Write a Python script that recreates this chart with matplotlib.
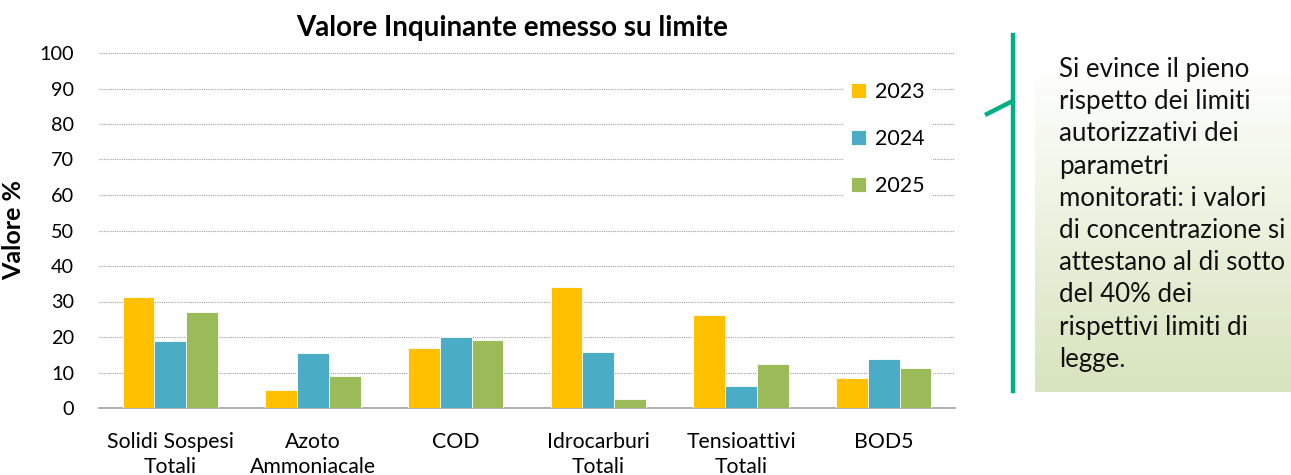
import numpy as np
import matplotlib.pyplot as plt
from matplotlib.colors import LinearSegmentedColormap

categories = ['Solidi Sospesi\nTotali', 'Azoto\nAmmoniacale', 'COD',
              'Idrocarburi\nTotali', 'Tensioattivi\nTotali', 'BOD5']
years = ['2023', '2024', '2025']
v2023 = [31.4, 5.1, 16.8, 34.2, 26.2, 8.5]
v2024 = [19.0, 15.5, 19.9, 15.8, 6.2, 13.9]
v2025 = [27.0, 8.9, 19.2, 2.5, 12.5, 11.2]
colors = ['#FFC000', '#4BACC6', '#9BBB59']

note = ("Si evince il pieno\nrispetto dei limiti\nautorizzativi dei\nparametri\n"
        "monitorati: i valori\ndi concentrazione si\nattestano al di sotto\n"
        "del 40% dei\nrispettivi limiti di\nlegge.")

plt.rcParams['font.family'] = ['Lato', 'DejaVu Sans']

fig = plt.figure(figsize=(12.91, 4.75), dpi=100)
ax = fig.add_axes([99 / 1291, 1 - 408 / 475, 856 / 1291, 355 / 475])

x = np.arange(len(categories))
w = 0.222
for i, (vals, c, lab) in enumerate(zip([v2023, v2024, v2025], colors, years)):
    ax.bar(x + (i - 1) * w, vals, w, color=c, label=lab, edgecolor='white', linewidth=0.6, zorder=3)

ax.set_xlim(-0.5, len(categories) - 0.5)
ax.set_ylim(0, 100)
ax.set_yticks(range(0, 101, 10))
ax.set_xticks(x)
ax.set_xticklabels(categories, fontsize=15.3, linespacing=1.35)
ax.tick_params(axis='y', labelsize=14.3, length=0, pad=18)
ax.tick_params(axis='x', length=0, pad=17)
ax.grid(axis='y', color='#a0a0a0', linestyle=(0, (1, 1)), linewidth=0.8, zorder=0)
for s in ['top', 'right', 'left']:
    ax.spines[s].set_visible(False)
ax.spines['bottom'].set_color('#a0a0a0')
ax.spines['bottom'].set_linewidth(1.2)
ax.set_ylabel('Valore %', fontsize=18, fontweight='bold', labelpad=10)

fig.text(512 / 1291, 1 - 28 / 475, 'Valore Inquinante emesso su limite',
         ha='center', va='center', fontsize=20, fontweight='bold')

leg = ax.legend(loc='upper left', bbox_to_anchor=((832 - 99) / 856, (408 - 63) / 355),
                frameon=True, fontsize=15.5, handlelength=0.7, handleheight=0.7,
                handletextpad=0.4, labelspacing=1.25, borderpad=0.4)
leg.get_frame().set_facecolor('white')
leg.get_frame().set_edgecolor('none')
leg.get_frame().set_alpha(1)
leg.set_zorder(5)

# gradient note box
bax = fig.add_axes([1035 / 1291, 1 - 392 / 475, (1291 - 1035) / 1291, (392 - 63) / 475])
cmap = LinearSegmentedColormap.from_list('g', ['#ffffff', '#d7e4bd'])
bax.imshow(np.linspace(0, 1, 100).reshape(-1, 1), aspect='auto', cmap=cmap,
           extent=[0, 1, 1, 0])
bax.axis('off')
fig.text(1059 / 1291, 1 - 57 / 475, note, ha='left', va='top', fontsize=18.6,
         linespacing=1.36, color='#111111')

# bracket line
fig.add_artist(plt.Line2D([1012.7 / 1291, 1012.7 / 1291], [1 - 35 / 475, 1 - 391 / 475],
                          color='#00B084', linewidth=3.2))
fig.add_artist(plt.Line2D([987 / 1291, 1012.7 / 1291], [1 - 114 / 475, 1 - 101 / 475],
                          color='#00B084', linewidth=3.2))

fig.savefig('out.png', dpi=100)
